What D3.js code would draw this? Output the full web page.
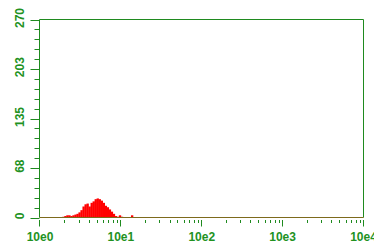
<!DOCTYPE html>
<html>
<head>
<meta charset="utf-8">
<script src="https://cdn.jsdelivr.net/npm/d3@7"></script>
<style>
  body { margin: 0; background: #fff; }
  svg { display: block; }
  text { font-family: Arial, "Liberation Sans", sans-serif; font-weight: bold; font-size: 12px; fill: #22921f; }
</style>
</head>
<body>
<div id="chart"></div>
<script>
// histogram channels: 40 per decade, counts start at channel 11
var channelsPerDecade = 40
var firstChannel = 11
var counts = [1, 2, 3, 3, 2, 3, 4, 5, 7, 10, 15, 18, 19, 15, 20, 22, 25, 26, 25, 23,
  20, 16, 14, 11, 8, 5, 2, 1, 3, 1, 0, 0, 0, 0, 3]

var yTicks = [0, 68, 135, 203, 270]
var xTicks = [1, 10, 100, 1000, 10000]
var xLabels = ['10e0', '10e1', '10e2', '10e3', '10e4']

var width = 374
var height = 244
// plot frame (top is a reserved window name, so use a margin object)
var frame = { left: 39.5, right: 363.5, top: 19.5, bottom: 217.5 }

var svg = d3.select('#chart').append('svg')
  .attr('width', width)
  .attr('height', height)

var x = d3.scaleLog().domain([1, 10000]).range([40, 363.5])
var y = d3.scaleLinear().domain([0, 270]).range([frame.bottom, frame.top])

var lineColor = '#1f8a1f'

// histogram bars
var bins = counts.map(function (c, i) {
  var ch = firstChannel + i
  return {
    x0: Math.pow(10, ch / channelsPerDecade),
    x1: Math.pow(10, (ch + 1) / channelsPerDecade),
    count: c
  }
}).filter(function (d) { return d.count > 0 })

svg.append('g').selectAll('rect')
  .data(bins)
  .enter().append('rect')
  .attr('x', function (d) { return x(d.x0) })
  .attr('width', function (d) { return x(d.x1) - x(d.x0) + 0.3 })
  .attr('y', function (d) { return y(d.count) })
  .attr('height', function (d) { return frame.bottom - y(d.count) })
  .attr('fill', '#ff0000')

// frame
svg.append('path')
  .attr('d', 'M' + frame.left + ',' + frame.bottom + 'V' + frame.top + 'H' + frame.right + 'V' + frame.bottom)
  .attr('fill', 'none')
  .attr('stroke', lineColor)

// baseline
svg.append('line')
  .attr('x1', frame.left).attr('x2', frame.right)
  .attr('y1', frame.bottom).attr('y2', frame.bottom)
  .attr('stroke', '#7d6a1c')
  .attr('stroke-width', 1.2)

// y axis ticks, 4 minor between majors
var yMinor = d3.range(0, 271, 13.5)
svg.append('g').selectAll('line')
  .data(yMinor)
  .enter().append('line')
  .attr('x1', function (d, i) { return i % 5 === 0 ? frame.left - 9 : frame.left - 5 })
  .attr('x2', frame.left)
  .attr('y1', function (d) { return Math.round(y(d)) + 0.5 })
  .attr('y2', function (d) { return Math.round(y(d)) + 0.5 })
  .attr('stroke', lineColor)

svg.append('g').selectAll('text')
  .data(yTicks)
  .enter().append('text')
  .attr('transform', function (d) { return 'translate(24,' + (y(d) - 1.5) + ') rotate(-90)' })
  .attr('text-anchor', 'middle')
  .text(function (d) { return d })

// x axis ticks (log, with minor ticks 2..9)
var xMinor = []
for (var p = 0; p < 4; p++) {
  for (var m = 2; m < 10; m++) xMinor.push(m * Math.pow(10, p))
}
svg.append('g').selectAll('line')
  .data(xMinor)
  .enter().append('line')
  .attr('x1', function (d) { return Math.round(x(d)) + 0.5 })
  .attr('x2', function (d) { return Math.round(x(d)) + 0.5 })
  .attr('y1', frame.bottom + 2.5)
  .attr('y2', frame.bottom + 5.5)
  .attr('stroke', lineColor)

svg.append('g').selectAll('line')
  .data(xTicks)
  .enter().append('line')
  .attr('x1', function (d) { return Math.round(x(d)) - 0.5 })
  .attr('x2', function (d) { return Math.round(x(d)) - 0.5 })
  .attr('y1', frame.bottom + 2.5)
  .attr('y2', frame.bottom + 9)
  .attr('stroke', lineColor)

svg.append('g').selectAll('text')
  .data(xTicks)
  .enter().append('text')
  .attr('x', function (d) { return x(d) })
  .attr('y', 241)
  .attr('text-anchor', 'middle')
  .text(function (d, i) { return xLabels[i] })
</script>
</body>
</html>
